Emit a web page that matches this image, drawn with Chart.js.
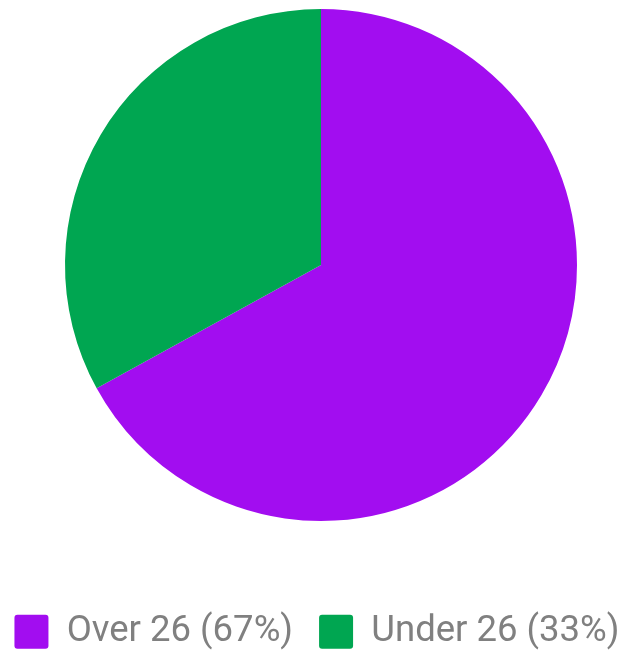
<!DOCTYPE html>
<html>
<head>
<meta charset="utf-8">
<script src="https://cdn.jsdelivr.net/npm/chart.js@4"></script>
<style>
  html, body { margin: 0; padding: 0; background: #fff; }
  #wrap { width: 622px; height: 651px; }
</style>
</head>
<body>
<div id="wrap"><canvas id="mychart"></canvas></div>
<script>
// slices
var labels = ['Over 26 (67%)', 'Under 26 (33%)'];
var values = [67, 33];
var bgcolor = ['#a20df0', '#00a651'];

// keep both legend items on one row and the legend block a fixed height
var legendHeight = {
  id: 'legendHeight',
  beforeLayout: function (chart) {
    var lg = chart.legend;
    if (lg && !lg._fixed) {
      var fit = lg.fit;
      lg.fit = function () {
        this.maxWidth = 800;
        fit.call(this);
        this.height = 130;
      };
      lg._fixed = true;
    }
  },
  afterLayout: function (chart) {
    // widen the legend box (centred near x=317) so the row does not wrap
    var lg = chart.legend;
    lg.left = -66;
    lg.right = 700;
    lg.width = 766;
  }
};

var ctx = document.getElementById("mychart");
var myChart = new Chart(ctx, {
  type: 'pie',
  data: {
    labels: labels,
    datasets: [{
      data: values,
      backgroundColor: bgcolor,
      borderWidth: 0
    }]
  },
  options: {
    responsive: true,
    maintainAspectRatio: false,
    animation: false,
    layout: { padding: { left: 20, top: 9, bottom: 0, right: 0 } },
    plugins: {
      legend: {
        display: true,
        position: 'bottom',
        title: {
          display: true,
          text: '',
          font: { size: 10, lineHeight: 1 },
          padding: { top: 56.5, bottom: 0 }
        },
        labels: {
          font: { family: 'Roboto', size: 36.5 },
          color: '#808080',
          boxWidth: 34,
          boxHeight: 34,
          padding: 26,
          useBorderRadius: true,
          borderRadius: 3
        }
      },
      tooltip: { enabled: false }
    }
  },
  plugins: [legendHeight]
});
</script>
</body>
</html>
